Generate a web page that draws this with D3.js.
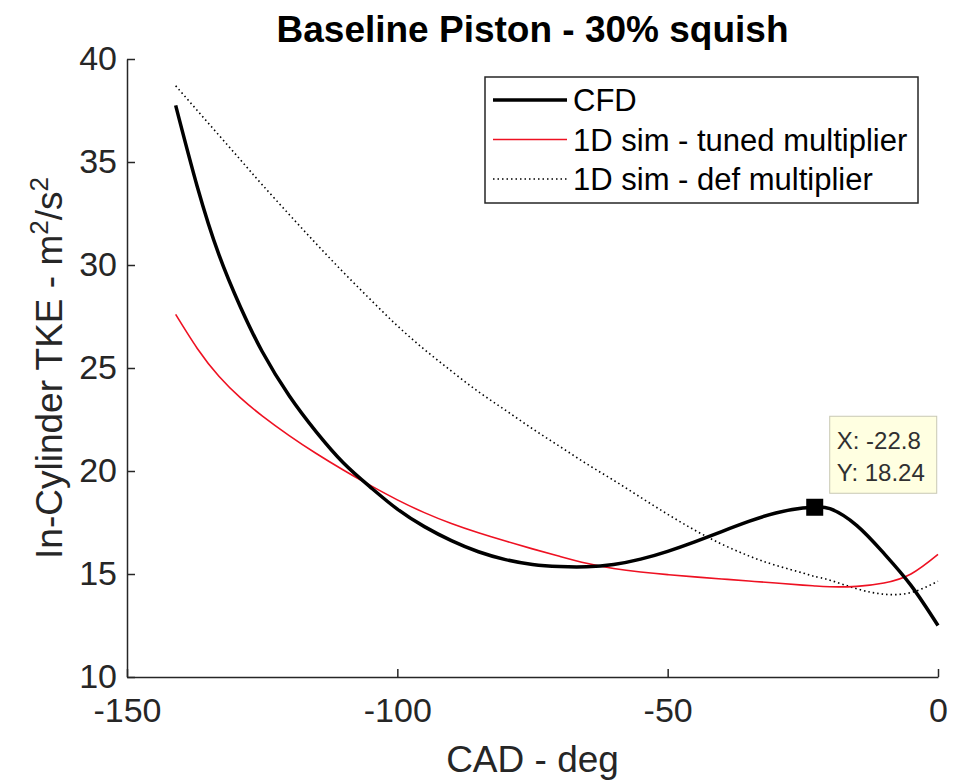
<!DOCTYPE html>
<html>
<head>
<meta charset="utf-8">
<script src="https://cdn.jsdelivr.net/npm/d3@7/dist/d3.min.js"></script>
<style>
  body { margin: 0; background: #fff; }
  text { font-family: "Liberation Sans", Arial, Helvetica, sans-serif; }
</style>
</head>
<body>
<div id="chart"></div>
<script>
// values
var cad = [-141, -137, -133, -129, -125, -120, -115, -110, -105, -100, -95, -90, -85, -80,
  -75, -70, -65, -60, -55, -50, -45, -40, -35, -30, -25, -22.8, -20, -15, -10, -5, 0];

var cfd = [37.75, 33.8, 30.5, 27.95, 25.8, 23.65, 21.9, 20.4, 19.22, 18.15, 17.3, 16.62, 16.08, 15.7,
  15.46, 15.36, 15.35, 15.46, 15.72, 16.1, 16.56, 17.06, 17.55, 17.96, 18.2, 18.24, 18.17, 17.35, 16.0, 14.45, 12.5];

var tuned = [27.6, 25.95, 24.6, 23.55, 22.68, 21.72, 20.85, 20.05, 19.3, 18.6, 17.98, 17.45, 17.0, 16.6,
  16.22, 15.86, 15.52, 15.27, 15.1, 14.97, 14.86, 14.76, 14.66, 14.56, 14.46, 14.42, 14.38, 14.4, 14.56, 15.0, 15.95];

var defMult = [38.7, 37.5, 36.3, 35.1, 33.9, 32.45, 31.03, 29.65, 28.33, 27.05, 25.9, 24.85, 23.85, 22.95,
  22.05, 21.2, 20.35, 19.55, 18.72, 17.9, 17.13, 16.45, 15.88, 15.42, 15.05, 14.88, 14.7, 14.28, 14.02, 14.1, 14.65];

var xTicks = [-150, -100, -50, 0];
var yTicks = [10, 15, 20, 25, 30, 35, 40];

var seriesNames = ["CFD", "1D sim - tuned multiplier", "1D sim - def multiplier"];
var tipPoint = { x: -22.8, y: 18.24 };

var svg = d3.select("#chart").append("svg")
  .attr("width", 955)
  .attr("height", 783);

var margin = { top: 59, left: 127, right: 17, bottom: 106 };
var width = 955 - margin.left - margin.right;
var height = 783 - margin.top - margin.bottom;

var g = svg.append("g").attr("transform", `translate(${margin.left},${margin.top})`);

var xScale = d3.scaleLinear().domain([-150, 0]).range([0, width]);
var yScale = d3.scaleLinear().domain([10, 40]).range([height, 0]);

var axisColor = "#262626";

// axes (ticks pointing inwards, no box)
var yAxis = g.append("g")
  .call(d3.axisLeft(yScale).tickValues(yTicks).tickSizeInner(-8).tickSizeOuter(0).tickPadding(10)
    .tickFormat(d => String(d)));
var xAxis = g.append("g")
  .attr("transform", `translate(0,${height})`)
  .call(d3.axisBottom(xScale).tickValues(xTicks).tickSizeInner(-8).tickSizeOuter(0).tickPadding(21)
    .tickFormat(d => String(d)));

[xAxis, yAxis].forEach(function(a) {
  a.select(".domain").attr("stroke", axisColor).attr("stroke-width", 1.5);
  a.selectAll(".tick line").attr("stroke", axisColor).attr("stroke-width", 1.5);
  a.selectAll(".tick text")
    .attr("fill", axisColor)
    .style("font-size", "34px")
    .style("font-family", "'Liberation Sans', Arial, sans-serif");
});

function rows(ys) {
  return cad.map(function(x, i) { return { x: x, y: ys[i] }; });
}

var line = d3.line()
  .x(d => xScale(d.x))
  .y(d => yScale(d.y))
  .curve(d3.curveNatural);

var styles = [
  { data: cfd, color: "#000", w: 3.5, dash: null },
  { data: tuned, color: "#ee1122", w: 1.6, dash: null },
  { data: defMult, color: "#000", w: 1.6, dash: "1.5,3" }
];

// draw def first so the solid lines stay on top
[2, 1, 0].forEach(function(i) {
  var s = styles[i];
  g.append("path")
    .attr("d", line(rows(s.data)))
    .attr("fill", "none")
    .attr("stroke", s.color)
    .attr("stroke-width", s.w)
    .attr("stroke-dasharray", s.dash);
});

// data tip
var mx = xScale(tipPoint.x), my = yScale(tipPoint.y);
g.append("rect")
  .attr("x", mx - 8.5).attr("y", my - 8.5)
  .attr("width", 17).attr("height", 17)
  .attr("fill", "#000");

var tip = g.append("g").attr("transform", `translate(${mx + 15},${my - 91})`);
tip.append("rect")
  .attr("width", 107).attr("height", 77)
  .attr("fill", "#ffffe1")
  .attr("stroke", "#c8c8b4")
  .attr("stroke-width", 1);
tip.append("text").attr("x", 7).attr("y", 33)
  .attr("fill", "#303030").style("font-size", "24px")
  .text("X: " + tipPoint.x);
tip.append("text").attr("x", 7).attr("y", 65)
  .attr("fill", "#303030").style("font-size", "24px")
  .text("Y: " + tipPoint.y);

// legend
var leg = svg.append("g").attr("transform", "translate(485,77)");
leg.append("rect")
  .attr("width", 433).attr("height", 126)
  .attr("fill", "#fff")
  .attr("stroke", axisColor)
  .attr("stroke-width", 1.5);
seriesNames.forEach(function(name, i) {
  var s = styles[i];
  var cy = 23 + i * 39.5;
  leg.append("line")
    .attr("x1", 8).attr("x2", 82)
    .attr("y1", cy).attr("y2", cy)
    .attr("stroke", s.color)
    .attr("stroke-width", s.w)
    .attr("stroke-dasharray", s.dash);
  leg.append("text")
    .attr("x", 88).attr("y", cy + 11)
    .attr("fill", "#000")
    .style("font-size", "31px")
    .text(name);
});

// title and labels
svg.append("text")
  .attr("x", margin.left + width / 2).attr("y", 42)
  .attr("text-anchor", "middle")
  .style("font-size", "37px").style("font-weight", "bold")
  .attr("fill", "#000")
  .text("Baseline Piston - 30% squish");

svg.append("text")
  .attr("x", margin.left + width / 2).attr("y", 772)
  .attr("text-anchor", "middle")
  .style("font-size", "37px")
  .attr("fill", axisColor)
  .text("CAD - deg");

var yl = svg.append("text")
  .attr("transform", `translate(62,${margin.top + height / 2}) rotate(-90)`)
  .attr("text-anchor", "middle")
  .style("font-size", "37px")
  .attr("fill", axisColor);
yl.append("tspan").text("In-Cylinder TKE - m");
yl.append("tspan").attr("dy", -14).style("font-size", "26px").text("2");
yl.append("tspan").attr("dy", 14).text("/s");
yl.append("tspan").attr("dy", -14).style("font-size", "26px").text("2");
</script>
</body>
</html>
